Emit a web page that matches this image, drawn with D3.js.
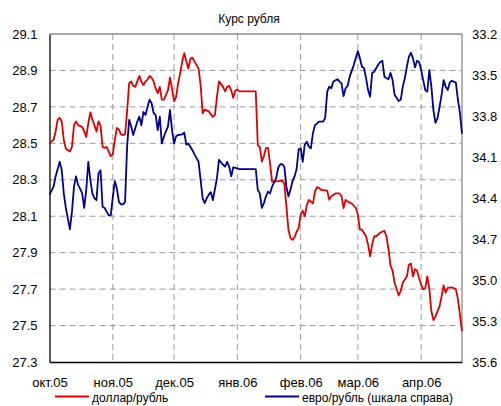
<!DOCTYPE html>
<html lang="ru">
<head>
<meta charset="UTF-8">
<title>Курс рубля</title>
<style>
  body { margin: 0; background: #fff; }
  svg { font-family: Arial, "Liberation Sans", sans-serif; }
</style>
</head>
<body>
<svg id="chart" width="501" height="406"></svg>
<script src="https://cdnjs.cloudflare.com/ajax/libs/d3/7.8.5/d3.min.js"></script>
<script>
// доллар/рубль, левая шкала
const usdRub = [
  ["2005-10-01",28.50],["2005-10-03",28.52],["2005-10-04",28.565],["2005-10-05",28.63],["2005-10-06",28.64],
  ["2005-10-07",28.62],["2005-10-08",28.52],["2005-10-09",28.47],["2005-10-11",28.455],["2005-10-12",28.48],
  ["2005-10-13",28.60],["2005-10-14",28.62],["2005-10-15",28.60],["2005-10-17",28.59],["2005-10-18",28.565],
  ["2005-10-19",28.535],["2005-10-20",28.61],["2005-10-21",28.67],["2005-10-22",28.63],["2005-10-23",28.60],
  ["2005-10-24",28.565],["2005-10-25",28.62],["2005-10-26",28.60],["2005-10-27",28.48],["2005-10-28",28.475],
  ["2005-10-29",28.48],["2005-10-30",28.455],["2005-10-31",28.43],["2005-11-01",28.44],["2005-11-02",28.52],
  ["2005-11-03",28.585],["2005-11-04",28.575],["2005-11-05",28.55],["2005-11-06",28.545],["2005-11-07",28.55],
  ["2005-11-08",28.675],["2005-11-09",28.83],["2005-11-10",28.84],["2005-11-11",28.815],["2005-11-12",28.81],
  ["2005-11-13",28.84],["2005-11-14",28.87],["2005-11-15",28.84],["2005-11-16",28.82],["2005-11-17",28.84],
  ["2005-11-18",28.85],["2005-11-19",28.87],["2005-11-20",28.86],["2005-11-21",28.84],["2005-11-22",28.80],
  ["2005-11-23",28.775],["2005-11-24",28.81],["2005-11-25",28.74],["2005-11-26",28.74],["2005-11-27",28.765],
  ["2005-11-28",28.79],["2005-11-29",28.86],["2005-11-30",28.80],["2005-12-01",28.73],["2005-12-02",28.755],
  ["2005-12-03",28.83],["2005-12-04",28.885],["2005-12-05",28.95],["2005-12-06",28.995],["2005-12-07",28.95],
  ["2005-12-08",28.91],["2005-12-09",28.965],["2005-12-10",28.97],["2005-12-11",28.95],["2005-12-13",28.91],
  ["2005-12-14",28.82],["2005-12-15",28.665],["2005-12-16",28.685],["2005-12-18",28.675],["2005-12-20",28.645],
  ["2005-12-21",28.655],["2005-12-22",28.755],["2005-12-23",28.84],["2005-12-25",28.81],["2005-12-26",28.785],
  ["2005-12-27",28.81],["2005-12-28",28.815],["2005-12-29",28.79],["2005-12-30",28.75],["2005-12-31",28.79],
  ["2006-01-01",28.795],["2006-01-02",28.785],["2006-01-10",28.785],["2006-01-11",28.49],["2006-01-12",28.48],
  ["2006-01-13",28.40],["2006-01-14",28.43],["2006-01-15",28.475],["2006-01-16",28.475],["2006-01-17",28.39],
  ["2006-01-18",28.29],["2006-01-19",28.29],["2006-01-23",28.295],["2006-01-24",28.28],["2006-01-25",28.155],
  ["2006-01-26",28.026],["2006-01-27",27.98],["2006-01-28",27.97],["2006-01-29",27.985],["2006-01-30",28.015],
  ["2006-01-31",28.035],["2006-02-01",28.11],["2006-02-02",28.13],["2006-02-03",28.10],["2006-02-04",28.16],
  ["2006-02-05",28.19],["2006-02-06",28.18],["2006-02-07",28.17],["2006-02-08",28.235],["2006-02-09",28.26],
  ["2006-02-10",28.255],["2006-02-11",28.245],["2006-02-14",28.24],["2006-02-15",28.19],["2006-02-16",28.21],
  ["2006-02-18",28.225],["2006-02-20",28.225],["2006-02-21",28.21],["2006-02-22",28.145],["2006-02-23",28.19],
  ["2006-02-24",28.18],["2006-02-26",28.17],["2006-02-28",28.145],["2006-03-01",28.11],["2006-03-02",28.026],
  ["2006-03-03",28.026],["2006-03-05",27.99],["2006-03-06",27.944],["2006-03-07",27.88],["2006-03-08",27.944],
  ["2006-03-09",27.99],["2006-03-10",27.99],["2006-03-12",28.01],["2006-03-14",28.02],["2006-03-15",27.99],
  ["2006-03-16",27.92],["2006-03-17",27.83],["2006-03-18",27.80],["2006-03-19",27.735],["2006-03-21",27.665],
  ["2006-03-22",27.69],["2006-03-23",27.735],["2006-03-25",27.77],["2006-03-26",27.834],["2006-03-27",27.84],
  ["2006-03-28",27.77],["2006-03-29",27.81],["2006-03-30",27.80],["2006-03-31",27.76],["2006-04-01",27.725],
  ["2006-04-02",27.70],["2006-04-03",27.705],["2006-04-04",27.77],["2006-04-05",27.70],["2006-04-06",27.58],
  ["2006-04-07",27.53],["2006-04-08",27.55],["2006-04-10",27.605],["2006-04-11",27.66],["2006-04-12",27.72],
  ["2006-04-13",27.68],["2006-04-14",27.707],["2006-04-16",27.71],["2006-04-18",27.70],["2006-04-19",27.645],
  ["2006-04-20",27.56],["2006-04-21",27.47]
];

// евро/рубль, правая шкала (перевёрнута)
const eurRub = [
  ["2005-10-01",34.375],["2005-10-03",34.317],["2005-10-04",34.242],["2005-10-06",34.135],["2005-10-07",34.197],
  ["2005-10-08",34.366],["2005-10-09",34.473],["2005-10-11",34.629],["2005-10-12",34.500],["2005-10-13",34.317],
  ["2005-10-14",34.242],["2005-10-15",34.304],["2005-10-16",34.331],["2005-10-17",34.366],["2005-10-18",34.473],
  ["2005-10-19",34.340],["2005-10-20",34.135],["2005-10-21",34.268],["2005-10-22",34.366],["2005-10-23",34.402],
  ["2005-10-24",34.415],["2005-10-25",34.219],["2005-10-26",34.197],["2005-10-27",34.464],["2005-10-28",34.473],
  ["2005-10-29",34.500],["2005-10-30",34.527],["2005-10-31",34.527],["2005-11-01",34.393],["2005-11-02",34.277],
  ["2005-11-03",34.331],["2005-11-04",34.429],["2005-11-05",34.446],["2005-11-06",34.446],["2005-11-07",34.429],
  ["2005-11-08",34.024],["2005-11-09",33.828],["2005-11-10",33.877],["2005-11-11",33.939],["2005-11-12",33.890],
  ["2005-11-13",33.841],["2005-11-14",33.805],["2005-11-15",33.868],["2005-11-16",33.770],["2005-11-17",33.792],
  ["2005-11-18",33.734],["2005-11-19",33.681],["2005-11-20",33.707],["2005-11-21",33.779],["2005-11-22",33.793],
  ["2005-11-23",33.903],["2005-11-24",33.805],["2005-11-25",34.001],["2005-11-26",33.952],["2005-11-27",33.912],
  ["2005-11-28",33.877],["2005-11-29",33.756],["2005-11-30",33.903],["2005-12-01",34.001],["2005-12-02",33.948],
  ["2005-12-03",33.939],["2005-12-05",33.934],["2005-12-06",33.921],["2005-12-07",34.010],["2005-12-08",34.001],
  ["2005-12-10",34.050],["2005-12-11",34.081],["2005-12-13",34.135],["2005-12-14",34.268],["2005-12-15",34.402],
  ["2005-12-16",34.437],["2005-12-17",34.402],["2005-12-18",34.375],["2005-12-19",34.357],["2005-12-20",34.415],
  ["2005-12-22",34.255],["2005-12-23",34.121],["2005-12-25",34.157],["2005-12-26",34.170],["2005-12-27",34.135],
  ["2005-12-28",34.170],["2005-12-29",34.242],["2005-12-30",34.175],["2005-12-31",34.179],["2006-01-02",34.188],
  ["2006-01-10",34.188],["2006-01-11",34.340],["2006-01-12",34.366],["2006-01-13",34.473],["2006-01-14",34.437],
  ["2006-01-15",34.388],["2006-01-16",34.353],["2006-01-17",34.366],["2006-01-18",34.317],["2006-01-20",34.255],
  ["2006-01-21",34.179],["2006-01-22",34.153],["2006-01-23",34.153],["2006-01-24",34.170],["2006-01-25",34.317],
  ["2006-01-26",34.388],["2006-01-27",34.340],["2006-01-28",34.277],["2006-01-29",34.242],["2006-01-30",34.188],
  ["2006-01-31",34.046],["2006-02-01",34.037],["2006-02-02",34.135],["2006-02-03",34.010],["2006-02-04",33.988],
  ["2006-02-05",34.024],["2006-02-06",34.037],["2006-02-07",33.926],["2006-02-08",33.868],["2006-02-10",33.841],
  ["2006-02-12",33.841],["2006-02-13",33.814],["2006-02-14",33.622],["2006-02-15",33.585],["2006-02-16",33.597],
  ["2006-02-17",33.547],["2006-02-19",33.531],["2006-02-20",33.547],["2006-02-21",33.561],["2006-02-22",33.654],
  ["2006-02-23",33.597],["2006-02-24",33.580],["2006-02-25",33.512],["2006-02-27",33.427],["2006-03-01",33.325],
  ["2006-03-02",33.378],["2006-03-03",33.440],["2006-03-04",33.449],["2006-03-05",33.521],["2006-03-06",33.610],
  ["2006-03-07",33.659],["2006-03-08",33.485],["2006-03-09",33.476],["2006-03-11",33.423],["2006-03-12",33.405],
  ["2006-03-13",33.396],["2006-03-14",33.512],["2006-03-16",33.531],["2006-03-17",33.485],["2006-03-18",33.537],
  ["2006-03-19",33.645],["2006-03-21",33.690],["2006-03-22",33.681],["2006-03-23",33.585],["2006-03-24",33.524],
  ["2006-03-25",33.440],["2006-03-26",33.366],["2006-03-27",33.337],["2006-03-28",33.378],["2006-03-29",33.444],
  ["2006-03-30",33.396],["2006-03-31",33.405],["2006-04-01",33.464],["2006-04-02",33.537],["2006-04-03",33.610],
  ["2006-04-04",33.622],["2006-04-05",33.464],["2006-04-06",33.585],["2006-04-07",33.756],["2006-04-08",33.850],
  ["2006-04-09",33.817],["2006-04-10",33.734],["2006-04-11",33.645],["2006-04-12",33.537],["2006-04-13",33.585],
  ["2006-04-14",33.610],["2006-04-15",33.556],["2006-04-16",33.542],["2006-04-18",33.556],["2006-04-19",33.681],
  ["2006-04-20",33.779],["2006-04-21",33.930]
];

const leftTicks = [27.3, 27.5, 27.7, 27.9, 28.1, 28.3, 28.5, 28.7, 28.9, 29.1];
const rightTicks = [33.2, 33.5, 33.8, 34.1, 34.4, 34.7, 35.0, 35.3, 35.6];
const monthTicks = ["2005-10-01", "2005-11-01", "2005-12-01", "2006-01-01", "2006-02-01", "2006-03-01", "2006-04-01"];
const monthLabels = ["окт.05", "ноя.05", "дек.05", "янв.06", "фев.06", "мар.06", "апр.06"];
const seriesNames = ["доллар/рубль", "евро/рубль (шкала справа)"];

const parse = d3.timeParse("%Y-%m-%d");
const plot = { left: 49.5, right: 462, top: 34, bottom: 362 };

const svg = d3.select("#chart");

const x = d3.scaleTime()
    .domain([parse("2005-10-01"), parse("2006-04-21")])
    .range([plot.left, plot.right]);
const yL = d3.scaleLinear().domain([27.3, 29.1]).range([plot.bottom, plot.top]);
const yR = d3.scaleLinear().domain([33.2, 35.6]).range([plot.top, plot.bottom]);

// title
svg.append("text")
    .attr("x", 249).attr("y", 23)
    .attr("text-anchor", "middle")
    .attr("font-size", 12)
    .text("Курс рубля");

// grid
svg.append("g").selectAll("line")
    .data(leftTicks.slice(1, -1))
    .join("line")
    .attr("x1", plot.left).attr("x2", plot.right)
    .attr("y1", d => yL(d)).attr("y2", d => yL(d))
    .attr("stroke", "#9a9a9a").attr("stroke-dasharray", "6,4");

svg.append("g").selectAll("line")
    .data(monthTicks.slice(1))
    .join("line")
    .attr("x1", d => x(parse(d))).attr("x2", d => x(parse(d)))
    .attr("y1", plot.top).attr("y2", plot.bottom)
    .attr("stroke", "#9a9a9a").attr("stroke-dasharray", "6,4");

// frame top/right
svg.append("path")
    .attr("d", `M${plot.left},${plot.top}H${plot.right}V${plot.bottom}`)
    .attr("fill", "none")
    .attr("stroke", "#8c8c8c")
    .attr("stroke-width", 1.3);

// axes
const axisL = svg.append("g")
    .attr("transform", `translate(${plot.left},0)`)
    .call(d3.axisLeft(yL).tickValues(leftTicks).tickSize(0).tickPadding(12).tickFormat(d3.format(".1f")));
const axisR = svg.append("g")
    .attr("transform", `translate(${plot.right},0)`)
    .call(d3.axisRight(yR).tickValues(rightTicks).tickSize(0).tickPadding(10).tickFormat(d3.format(".1f")));
const axisB = svg.append("g")
    .attr("transform", `translate(0,${plot.bottom})`)
    .call(d3.axisBottom(x).tickValues(monthTicks.map(parse)).tickSize(0).tickPadding(16)
        .tickFormat((d, i) => monthLabels[i]));

[axisL, axisR, axisB].forEach(g => {
    g.selectAll("text").attr("font-size", 13).attr("fill", "#000");
    g.attr("font-family", null);
});
axisR.select(".domain").remove();
axisL.select(".domain").attr("stroke", "#000").attr("stroke-width", 1.3);
axisB.select(".domain").attr("stroke", "#000").attr("stroke-width", 1.3);

// lines
const lineL = d3.line().x(d => x(parse(d[0]))).y(d => yL(d[1]));
const lineR = d3.line().x(d => x(parse(d[0]))).y(d => yR(d[1]));

svg.append("path")
    .datum(usdRub)
    .attr("d", lineL)
    .attr("fill", "none")
    .attr("stroke", "#dd0000")
    .attr("stroke-width", 1.8)
    .attr("stroke-linejoin", "round");

svg.append("path")
    .datum(eurRub)
    .attr("d", lineR)
    .attr("fill", "none")
    .attr("stroke", "#000090")
    .attr("stroke-width", 1.8)
    .attr("stroke-linejoin", "round");

// legend
const legendItems = [
    { name: seriesNames[0], color: "#dd0000", x: 55 },
    { name: seriesNames[1], color: "#000090", x: 265 }
];
const legend = svg.append("g").selectAll("g")
    .data(legendItems)
    .join("g")
    .attr("transform", d => `translate(${d.x},396.5)`);
legend.append("line")
    .attr("x1", 0).attr("x2", 34)
    .attr("stroke", d => d.color).attr("stroke-width", 1.8);
legend.append("text")
    .attr("x", 37).attr("y", 5)
    .attr("font-size", 12)
    .text(d => d.name);
</script>
</body>
</html>
